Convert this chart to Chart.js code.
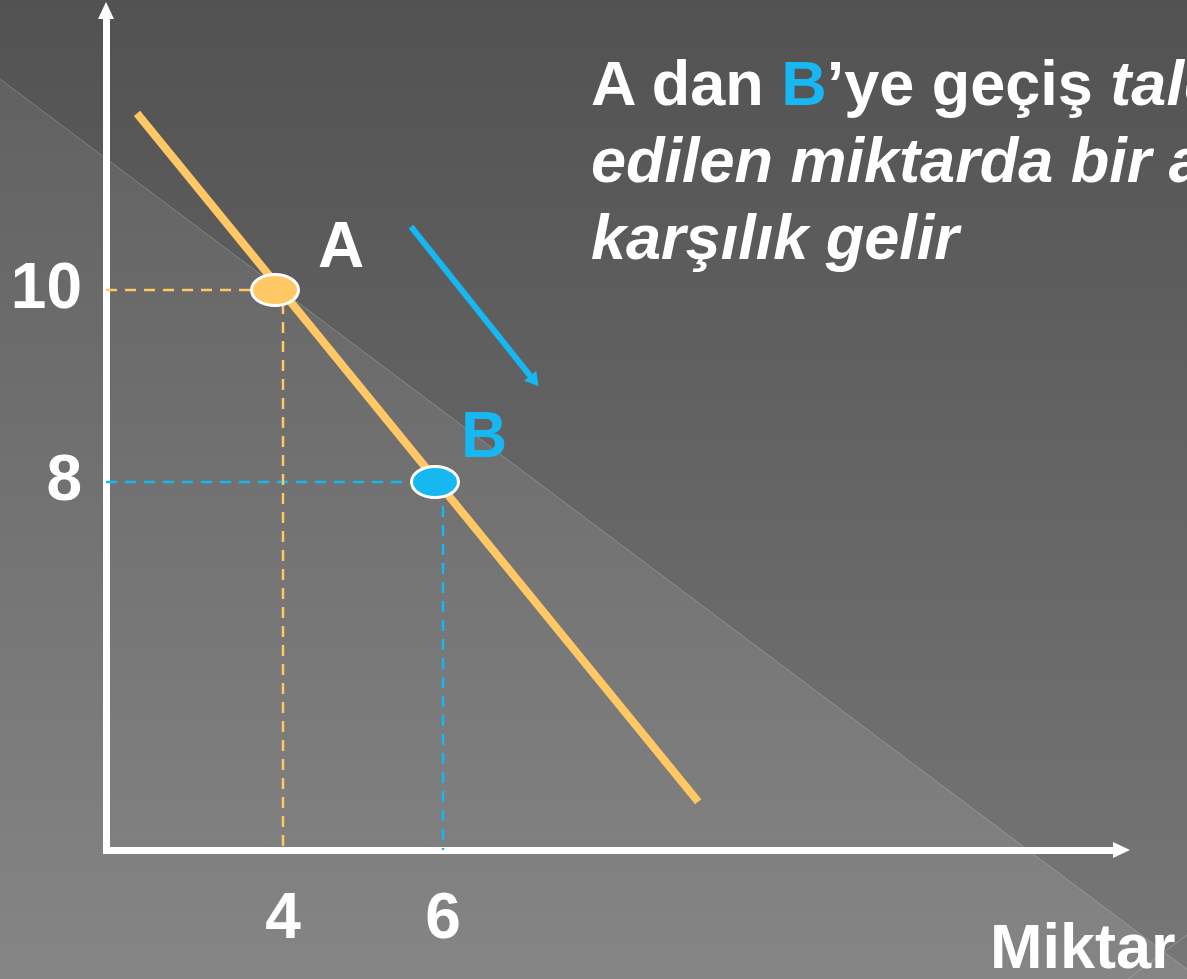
<!DOCTYPE html>
<html lang="tr">
<head>
<meta charset="utf-8">
<title>Talep edilen miktar</title>
<script src="https://cdn.jsdelivr.net/npm/chart.js@4.4.1/dist/chart.umd.min.js"></script>
<style>
	html, body {
		margin: 0;
		padding: 0;
		background: #5f5f5f;
		overflow: hidden;
	}

	#wrap {
		position: relative;
		width: 1187px;
		height: 979px;
		overflow: hidden;
		font-family: "Liberation Sans", Arial, sans-serif;
		font-weight: bold;
		color: #ffffff;
	}

	#myChart {
		position: absolute;
		left: 0;
		top: 0;
	}

	.txt {
		position: absolute;
		white-space: nowrap;
		line-height: 1;
	}

	#note {
		position: absolute;
		left: 591px;
		top: 45px;
		font-size: 63px;
		line-height: 77px;
		white-space: nowrap;
	}

	.blue {
		color: #17b7f2;
	}
</style>
</head>
<body>

<div id="wrap">
	<canvas id="myChart" width="1187" height="979"></canvas>

	<div id="note">A dan <span class="blue">B</span>’ye geçiş <i>talep</i><br><i>edilen miktarda bir azalmaya</i><br><i>karşılık gelir</i></div>

	<div class="txt" style="left:318px; top:213px; font-size:64px;">A</div>
	<div class="txt blue" style="left:461px; top:403px; font-size:64px;">B</div>
	<div class="txt" style="left:990px; top:915px; font-size:63px;">Miktar</div>
</div>

<script>
// 데이터
const demandQ = [2.175, 9.19];
const demandP = [11.84, 4.67];

const pointQ = [4, 6];
const pointP = [10, 8];

const arrowQ = [5.6, 7.125];
const arrowP = [10.66, 9.07];

const xTicks = [4, 6];
const yTicks = [8, 10];

const xRange = [1.7875, 14.4375];
const yRange = [4.1667, 12.802];

const orange = "#ffc864";
const blue = "#17b7f2";


// 점 모양 (타원)
function makeEllipse(color) {
	const c = document.createElement("canvas");
	c.width = 70;
	c.height = 40;
	const g = c.getContext("2d");
	g.beginPath();
	g.ellipse(27, 20, 23.5, 15.5, 0, 0, Math.PI * 2);
	g.fillStyle = color;
	g.fill();
	g.lineWidth = 3;
	g.strokeStyle = "#ffffff";
	g.stroke();
	return c;
}

function line(xs, ys) {
	let arr = [];
	for (let i = 0; i < xs.length; i++) {
		arr.push({ x: xs[i], y: ys[i] });
	}
	return arr;
}

function guide(q, p) {
	return [
		{ x: xRange[0], y: p },
		{ x: q, y: p },
		{ x: q, y: yRange[0] }
	];
}


// 배경
const background = {
	id: "background",
	beforeDraw(chart) {
		const ctx = chart.ctx;
		const w = chart.width;
		const h = chart.height;

		ctx.save();

		let g1 = ctx.createLinearGradient(0, 0, 0, h);
		g1.addColorStop(0, "#525252");
		g1.addColorStop(1, "#777777");
		ctx.fillStyle = g1;
		ctx.fillRect(0, 0, w, h);

		let g2 = ctx.createLinearGradient(0, 0, 0, h);
		g2.addColorStop(0, "#5e5e5e");
		g2.addColorStop(1, "#858585");
		ctx.fillStyle = g2;
		ctx.beginPath();
		ctx.moveTo(0, 79);
		ctx.lineTo(w, 79 + w * 0.75);
		ctx.lineTo(w, h);
		ctx.lineTo(0, h);
		ctx.closePath();
		ctx.fill();

		ctx.strokeStyle = "rgba(255,255,255,0.22)";
		ctx.lineWidth = 1;
		ctx.beginPath();
		ctx.moveTo(0, 79);
		ctx.lineTo(w, 79 + w * 0.75);
		ctx.moveTo(1128, h);
		ctx.lineTo(w, 935);
		ctx.stroke();

		ctx.restore();
	}
};

// 축 화살표
const axisArrows = {
	id: "axisArrows",
	afterDraw(chart) {
		const ctx = chart.ctx;
		const a = chart.chartArea;
		const xs = chart.scales.x;
		const ys = chart.scales.y;

		let ax = ys.right;
		let ay = xs.top;

		ctx.save();
		ctx.fillStyle = "#ffffff";

		ctx.beginPath();
		ctx.moveTo(ax, a.top - 19);
		ctx.lineTo(ax - 8, a.top - 2);
		ctx.lineTo(ax + 8, a.top - 2);
		ctx.closePath();
		ctx.fill();

		ctx.beginPath();
		ctx.moveTo(a.right + 12, ay);
		ctx.lineTo(a.right - 5, ay - 8);
		ctx.lineTo(a.right - 5, ay + 8);
		ctx.closePath();
		ctx.fill();

		ctx.restore();
	}
};


const tickFont = {
	family: "'Liberation Sans', Arial, sans-serif",
	size: 64,
	weight: "bold"
};

const ctx = document.getElementById("myChart");

new Chart(ctx, {
	type: "line",
	data: {
		datasets: [
			{
				label: "A",
				data: line(pointQ, pointP),
				showLine: false,
				pointStyle: [makeEllipse(orange), makeEllipse(blue)],
				pointRadius: 20,
				order: 0
			},
			{
				label: "talep",
				data: line(demandQ, demandP),
				borderColor: orange,
				borderWidth: 8,
				borderCapStyle: "butt",
				pointRadius: 0,
				order: 1
			},
			{
				label: "ok",
				data: line(arrowQ, arrowP),
				borderColor: blue,
				backgroundColor: blue,
				borderWidth: 6,
				pointRadius: [0, 9],
				pointStyle: "triangle",
				pointRotation: 141,
				pointBorderWidth: 0,
				order: 1
			},
			{
				label: "A kesik",
				data: guide(pointQ[0], pointP[0]),
				borderColor: orange,
				borderWidth: 2.5,
				borderDash: [11, 8],
				pointRadius: 0,
				order: 2
			},
			{
				label: "B kesik",
				data: guide(pointQ[1], pointP[1]),
				borderColor: blue,
				borderWidth: 2.5,
				borderDash: [11, 8],
				pointRadius: 0,
				order: 2
			}
		]
	},
	options: {
		responsive: false,
		animation: false,
		events: [],
		layout: {
			padding: { top: 9, right: 69, left: 0, bottom: 0 }
		},
		plugins: {
			legend: { display: false },
			tooltip: { enabled: false }
		},
		scales: {
			x: {
				type: "linear",
				min: xRange[0],
				max: xRange[1],
				afterBuildTicks: function(scale) {
					scale.ticks = xTicks.map(v => ({ value: v }));
				},
				afterFit: function(scale) {
					scale.height = 129;
					scale.paddingLeft = 0;
					scale.paddingRight = 0;
				},
				grid: { display: false, drawTicks: false },
				border: { display: true, color: "#ffffff", width: 7 },
				ticks: {
					color: "#ffffff",
					font: tickFont,
					padding: 32,
					maxRotation: 0
				}
			},
			y: {
				type: "linear",
				min: yRange[0],
				max: yRange[1],
				afterBuildTicks: function(scale) {
					scale.ticks = yTicks.map(v => ({ value: v }));
				},
				afterFit: function(scale) {
					scale.width = 106;
					scale.paddingTop = 0;
					scale.paddingBottom = 0;
				},
				grid: { display: false, drawTicks: false },
				border: { display: true, color: "#ffffff", width: 7 },
				ticks: {
					color: "#ffffff",
					font: tickFont,
					padding: 24
				}
			}
		}
	},
	plugins: [background, axisArrows]
});
</script>

</body>
</html>
